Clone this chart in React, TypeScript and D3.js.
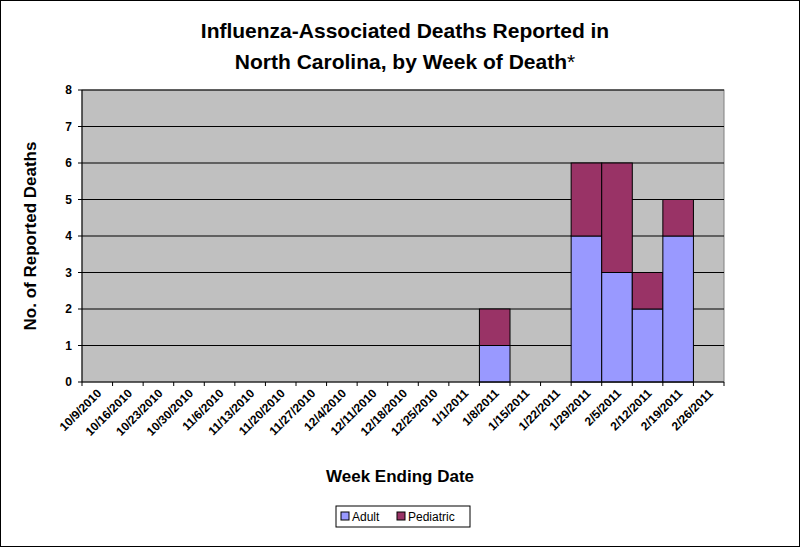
import React from "react";
import * as d3 from "d3";

const weeks = ["10/9/2010","10/16/2010","10/23/2010","10/30/2010","11/6/2010","11/13/2010","11/20/2010","11/27/2010","12/4/2010","12/11/2010","12/18/2010","12/25/2010","1/1/2011","1/8/2011","1/15/2011","1/22/2011","1/29/2011","2/5/2011","2/12/2011","2/19/2011","2/26/2011"];
const adult = [0,0,0,0,0,0,0,0,0,0,0,0,0,1,0,0,4,3,2,4,0];
const pediatric = [0,0,0,0,0,0,0,0,0,0,0,0,0,1,0,0,2,3,1,1,0];
const yTicks = [0,1,2,3,4,5,6,7,8];

export default function App() {
  const W = 800, H = 547;
  const L = 82, R = 724, T = 90, B = 382;
  const x = d3.scaleBand().domain(weeks).range([L, R]).padding(0);
  const y = d3.scaleLinear().domain([0, 8]).range([B, T]);
  const f = "Arial, 'Liberation Sans', sans-serif";
  return (
    <svg width={W} height={H} style={{ position: "absolute", left: 0, top: 0 }} fontFamily={f}>
      <rect x={0.5} y={0.5} width={W - 1} height={H - 1} fill="white" stroke="#000" />
      <text x={405} y={38} textAnchor="middle" fontSize={21} fontWeight="bold">Influenza-Associated Deaths Reported in</text>
      <text x={405} y={69} textAnchor="middle" fontSize={21} fontWeight="bold">North Carolina, by Week of Death<tspan fontWeight="normal">*</tspan></text>
      <rect x={L} y={T} width={R - L} height={B - T} fill="#C0C0C0" stroke="#808080" />
      {yTicks.map(t => (
        <g key={t}>
          {t > 0 && <line x1={L} x2={R} y1={y(t)} y2={y(t)} stroke="#000" strokeWidth={1} />}
          <line x1={L - 4} x2={L} y1={y(t)} y2={y(t)} stroke="#000" />
          <text x={L - 10} y={y(t) + 4} textAnchor="end" fontSize={12} fontWeight="bold">{t}</text>
        </g>
      ))}
      {weeks.map((w, i) => (
        <g key={w}>
          {adult[i] > 0 && <rect x={x(w)} y={y(adult[i])} width={x.bandwidth()} height={y(0) - y(adult[i])} fill="#9999FF" stroke="#000" />}
          {pediatric[i] > 0 && <rect x={x(w)} y={y(adult[i] + pediatric[i])} width={x.bandwidth()} height={y(adult[i]) - y(adult[i] + pediatric[i])} fill="#993366" stroke="#000" />}
        </g>
      ))}
      <line x1={L} x2={L} y1={T} y2={B} stroke="#000" />
      <line x1={L} x2={R} y1={B} y2={B} stroke="#000" />
      {weeks.map((w, i) => {
        const cx = x(w)! + x.bandwidth() / 2;
        return (
          <g key={w}>
            <line x1={x(w)!} x2={x(w)!} y1={B} y2={B + 4} stroke="#000" />
            <text transform={`translate(${cx + 5},${B + 12}) rotate(-45)`} textAnchor="end" fontSize={12} fontWeight="bold">{w}</text>
          </g>
        );
      })}
      <line x1={R} x2={R} y1={B} y2={B + 4} stroke="#000" />
      <text x={400} y={482} textAnchor="middle" fontSize={17} fontWeight="bold">Week Ending Date</text>
      <text transform={`translate(36,236) rotate(-90)`} textAnchor="middle" fontSize={17} fontWeight="bold">No. of Reported Deaths</text>
      <rect x={336} y={506} width={134} height={21} fill="white" stroke="#000" />
      <rect x={341} y={512} width={8} height={8} fill="#9999FF" stroke="#000" />
      <text x={352} y={521} fontSize={12}>Adult</text>
      <rect x={397} y={512} width={8} height={8} fill="#993366" stroke="#000" />
      <text x={408} y={521} fontSize={12}>Pediatric</text>
    </svg>
  );
}
